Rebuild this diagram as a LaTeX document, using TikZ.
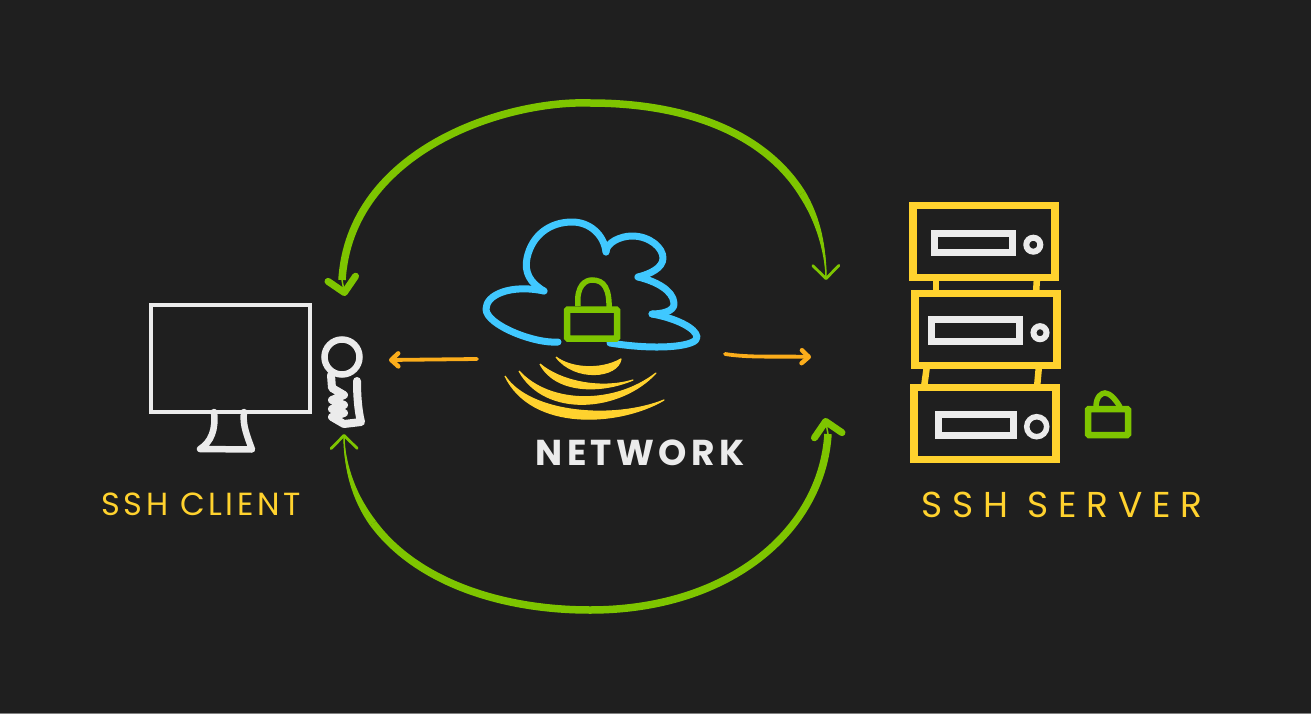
\documentclass[tikz,border=0pt]{standalone}
\usepackage{fontspec}
\usepackage{tikz}
\usetikzlibrary{arrows.meta,calc}
\newfontfamily\sketchfont{Poppins}
\definecolor{Slate}{HTML}{1F1F1F}
\definecolor{Leaf}{HTML}{7EC500}
\definecolor{Sun}{HTML}{FFD22E}
\definecolor{Sky}{HTML}{40C8FF}
\definecolor{Chalk}{HTML}{EBEBEB}
\definecolor{Tangerine}{HTML}{FBAD1B}
\tikzset{
  sketchlabel/.style={inner sep=0pt, text=#1},
  sketchlabel/.default={Sun},
  rackbox/.style={draw=Sun, line width=7.5pt, outer sep=0pt, inner sep=0pt, minimum width=142pt, minimum height=72pt},
  rackslot/.style={draw=Chalk, line width=7pt, outer sep=0pt, inner sep=0pt},
  racklamp/.style={circle, draw=Chalk, line width=6pt, outer sep=0pt, inner sep=0pt},
  strut/.style={draw=Sun, line width=6.5pt, line cap=round},
  chalkline/.style={draw=Chalk, line width=6.5pt, line cap=round, line join=round},
  cloudline/.style={draw=Sky, line width=7pt, line cap=round, line join=round},
  lockbox/.style={draw=Leaf, line width=6.5pt, rounded corners=1pt, outer sep=0pt, inner sep=0pt},
  shackle/.style={draw=Leaf, line width=5.5pt},
  wave/.style={fill=Sun, draw=Sun, line width=1.2pt, line join=round},
  fatarc/.style={draw=Leaf, line width=7.5pt},
  thinhead/.style={-{Straight Barb[length=13pt,width=26pt,line width=2.8pt,round]}, draw=Leaf, line width=1.5pt},
  fathead/.style={-{Straight Barb[length=14pt,width=28pt,line width=7pt,round]}, draw=Leaf, line width=1.5pt},
  hintarr/.style={-{Straight Barb[length=7pt,width=13pt,line width=4.5pt,round]}, draw=Tangerine, line width=3.8pt, line cap=round},
}
\begin{document}
\begin{tikzpicture}[x=1pt,y=-1pt]
  \useasboundingbox (0,0) rectangle (1311,714);
  \fill[Slate] (0,0) rectangle (1311,714);
  \fill[Chalk!55!black] (0,713) rectangle (1311,714);

  % client desk
  \node[draw=Chalk, line width=4pt, outer sep=0pt, inner sep=0pt, minimum width=159pt, minimum height=107pt] (screen) at (230,358) {};
  \draw[chalkline] (214,412) .. controls (216,430) and (211,442) .. (200,449) -- (252,449.5) .. controls (248,438) and (242,425) .. (244,412);
  \node[circle, draw=Chalk, line width=6.5pt, outer sep=0pt, inner sep=0pt, minimum size=35pt] (head) at (342,357) {};
  \draw[chalkline, line width=8pt] (331,375) -- (332,388) -- (344,395) -- (332,400) -- (344,405) -- (332,409) -- (344,413) -- (332,417)
    -- (344,424) -- (361,422) .. controls (358,410) and (357,395) .. (357,381);

  % network cloud, one stroke per lobe
  \draw[cloudline] (544,291) .. controls (530,283) and (524,272) .. (527,258) .. controls (532,235) and (550,222) .. (572,222) .. controls (590,222) and (604,235) .. (606,252);
  \draw[cloudline] (606,252) .. controls (606,243) and (620,236) .. (632,236) .. controls (650,236) and (663,248) .. (663,258) .. controls (663,268) and (650,274) .. (638,277);
  \draw[cloudline] (638,277) .. controls (655,281) and (673,290) .. (674,303) .. controls (675,312) and (660,314) .. (652,314);
  \draw[cloudline] (652,314) .. controls (675,318) and (696,328) .. (697,337) .. controls (698,346) and (660,351) .. (610,343);
  \draw[cloudline] (558,342) .. controls (535,344) and (486,325) .. (486,309) .. controls (486,295) and (510,284) .. (544,291);

  % lock over the cloud
  \draw[shackle] (578,306) .. controls (576,285) and (586,280) .. (592,280) .. controls (604,280) and (610,288) .. (609,312);
  \node[lockbox, minimum width=50pt, minimum height=29pt] (cloudlock) at (592,324) {};

  % signal waves
  \draw[wave] (556,357) .. controls (570,368) and (600,371) .. (621,359) .. controls (618,378) and (575,382) .. (556,357);
  \draw[wave] (540,364) .. controls (560,381) and (600,390) .. (633,380) .. controls (600,394) and (555,393) .. (540,364);
  \draw[wave] (519,371) .. controls (550,405) and (615,405) .. (656,373) .. controls (620,412) and (545,418) .. (519,371);
  \draw[wave] (505,376) .. controls (530,414) and (615,420) .. (664,400) .. controls (620,426) and (532,432) .. (505,376);

  % server rack
  \node[rackbox] (rackone) at (984,241.5) {};
  \node[rackbox] (racktwo) at (986,329.5) {};
  \node[rackbox] (rackthree) at (985,423.5) {};
  \draw[strut] ([xshift=23pt]rackone.south west) -- ([xshift=21pt]racktwo.north west);
  \draw[strut] ([xshift=-18pt]rackone.south east) -- ([xshift=-21pt]racktwo.north east);
  \draw[strut] ([xshift=12pt]racktwo.south west) -- ([xshift=10pt]rackthree.north west);
  \draw[strut] ([xshift=-18pt]racktwo.south east) -- ([xshift=-19pt]rackthree.north east);
  \node[rackslot, minimum width=78pt, minimum height=19pt] (slotone) at (973.7,243) {};
  \node[rackslot, minimum width=88pt, minimum height=22pt] (slottwo) at (975,330) {};
  \node[rackslot, minimum width=75pt, minimum height=21pt] (slotthree) at (976.2,424.5) {};
  \node[racklamp, minimum size=14pt] (lampone) at (1033.3,244.7) {};
  \node[racklamp, minimum size=13pt] (lamptwo) at (1040,332.7) {};
  \node[racklamp, line width=5.5pt, minimum size=20pt] (lampthree) at (1036.7,426.7) {};
  \draw[shackle] (1096,407) .. controls (1096,396) and (1102,393) .. (1105,393) .. controls (1110,393) and (1116,400) .. (1120,407);
  \node[lockbox, minimum width=40pt, minimum height=26pt] (racklock) at (1108,422) {};

  % end points of the connectors
  \coordinate (srvtop) at (826,280);
  \coordinate (clitop) at (345,296);
  \coordinate (clibot) at (344,434);
  \coordinate (srvbot) at (825,418);
  \coordinate (peak) at (590,103);
  \coordinate (trough) at (590,610);
  \coordinate (clineck) at (342,280);
  \coordinate (srvneck) at (828,434);

  % each arc: hairline with its tips, heavy stroke on top, wedge into the thin end
  \draw[thinhead] (peak) .. controls (735,103) and (825,170) .. (srvtop);
  \draw[fathead] (peak) .. controls (505,100) and (350,150) .. (clineck) -- (clitop);
  \draw[fatarc] (peak) .. controls (505,100) and (350,150) .. (clineck);
  \draw[fatarc] (802,193.4) .. controls (766,136) and (691.5,103) .. (peak);
  \fill[Leaf] (srvtop) .. controls (827,247) and (820.4,217) .. (805.2,191.4) -- (798.8,195.4) .. controls (814.4,219) and (824,247) .. (srvtop);

  \draw[thinhead] (trough) .. controls (460,610) and (345,550) .. (clibot);
  \draw[fathead] (trough) .. controls (730,610) and (822,530) .. (srvneck) -- (srvbot);
  \draw[fatarc] (trough) .. controls (730,610) and (822,530) .. (srvneck);
  \draw[fatarc] (373,523.2) .. controls (415.4,580.6) and (499,610) .. (trough);
  \fill[Leaf] (clibot) .. controls (345.6,468.8) and (358,497.5) .. (376,520.9) -- (370,525.5) .. controls (352,500) and (343,469) .. (clibot);

  % hints on either side of the cloud
  \coordinate (netleft) at (477,359);
  \coordinate (netright) at (725,354);
  \coordinate (peer) at (389,360);
  \coordinate (rack) at (811,357);
  \draw[hintarr] (netleft) -- (peer);
  \draw[hintarr] (netright) .. controls (750,358) and (780,356) .. (rack);

  \node[sketchlabel, font=\sketchfont\fontsize{32}{32}\selectfont\addfontfeature{LetterSpace=11}] (clientlabel) at (201,504) {SSH CLIENT};
  \node[sketchlabel, font=\sketchfont\fontsize{36}{36}\selectfont\addfontfeature{LetterSpace=27}] (serverlabel) at (1062,505) {SSH SERVER};
  \node[sketchlabel=Chalk, font=\sketchfont\bfseries\fontsize{36}{36}\selectfont\addfontfeature{LetterSpace=12}] (netlabel) at (640,453) {NETWORK};
\end{tikzpicture}
\end{document}
